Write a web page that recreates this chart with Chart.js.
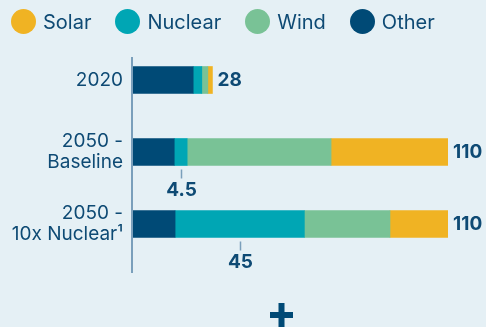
<!DOCTYPE html>
<html>
<head>
<meta charset="utf-8">
<script src="https://cdn.jsdelivr.net/npm/chart.js@4"></script>
<style>
  body { margin: 0; background: #e5f0f5; }
  #wrap { position: relative; width: 486px; height: 327px; background: #e5f0f5; overflow: hidden; }
  #legend { position: absolute; left: 11px; top: 9px; display: flex; align-items: center; font-family: Inter, sans-serif; font-size: 20px; color: #0e4a74; }
  #legend .item { display: flex; align-items: center; margin-right: 24px; }
  #legend .dot { width: 25px; height: 25px; border-radius: 50%; margin-right: 7px; }
</style>
</head>
<body>
<div id="wrap">
  <canvas id="chart"></canvas>
  <div id="legend"></div>
</div>
<script>
const categories = ['2020', ['2050 -', 'Baseline'], ['2050 -', '10x Nuclear¹']];
const other   = [21.3, 14.7, 15.0];
const nuclear = [3.0, 4.5, 45];
const wind    = [2.1, 50.1, 29.8];
const solar   = [1.6, 40.7, 20.2];
const totals  = [28, 110, 110];
const nuclearCallouts = [null, '4.5', '45'];
const legendOrder = ['Solar', 'Nuclear', 'Wind', 'Other'];

const textColor = '#0e4a74';
const lineColor = '#7a9fbb';

// stacked left to right: Other, Nuclear, Wind, Solar
const series = [
    { label: 'Other', data: other, color: '#004a76' },
    { label: 'Nuclear', data: nuclear, color: '#00a6b4' },
    { label: 'Wind', data: wind, color: '#79c296' },
    { label: 'Solar', data: solar, color: '#f0b323' },
];

var legend = document.getElementById('legend');
legendOrder.forEach(name => {
    var s = series.find(x => x.label === name);
    var item = document.createElement('div');
    item.className = 'item';
    item.innerHTML = '<span class="dot" style="background:' + s.color + '"></span>' + s.label;
    legend.appendChild(item);
});

const annotations = {
    id: 'annotations',
    afterDatasetsDraw(chart) {
        const ctx = chart.ctx;
        const area = chart.chartArea;
        ctx.save();

        // vertical axis line, sitting a little below the category band
        ctx.strokeStyle = lineColor;
        ctx.lineWidth = 2;
        ctx.beginPath();
        ctx.moveTo(area.left, area.top + 13);
        ctx.lineTo(area.left, area.bottom + 13);
        ctx.stroke();

        // totals at the end of each bar
        const last = chart.getDatasetMeta(series.length - 1);
        ctx.fillStyle = textColor;
        ctx.font = 'bold 19px Inter';
        ctx.textBaseline = 'middle';
        ctx.textAlign = 'left';
        last.data.forEach((bar, i) => {
            ctx.fillText(totals[i], bar.x + 5, bar.y);
        });

        // nuclear share callouts under the bars
        const nuc = chart.getDatasetMeta(1);
        nuc.data.forEach((bar, i) => {
            if (!nuclearCallouts[i]) return;
            const cx = Math.round((bar.x + bar.base) / 2) + 0.5;
            const bottom = bar.y + bar.height / 2;
            ctx.strokeStyle = lineColor;
            ctx.lineWidth = 1.5;
            ctx.beginPath();
            ctx.moveTo(cx, bottom + 4);
            ctx.lineTo(cx, bottom + 13);
            ctx.stroke();
            ctx.textAlign = 'center';
            ctx.fillText(nuclearCallouts[i], cx, bottom + 25);
        });

        // plus sign below the chart
        ctx.fillStyle = '#004a76';
        ctx.fillRect(270, 312, 23, 6);
        ctx.fillRect(278.5, 303, 6, 30);
        ctx.restore();
    }
};

new Chart(document.getElementById('chart'), {
    type: 'bar',
    data: {
        labels: categories,
        datasets: series.map(s => ({
            label: s.label,
            data: s.data,
            backgroundColor: s.color,
            barThickness: 27,
        })),
    },
    options: {
        indexAxis: 'y',
        responsive: true,
        maintainAspectRatio: false,
        animation: false,
        layout: { padding: { top: 44, bottom: 67, left: 0, right: 38 } },
        plugins: {
            legend: { display: false },
            tooltip: { enabled: false },
        },
        scales: {
            x: {
                stacked: true,
                display: false,
                min: 0,
                max: 110,
            },
            y: {
                stacked: true,
                border: { display: false },
                grid: { display: false, drawTicks: false },
                ticks: {
                    padding: 9,
                    color: textColor,
                    font: { family: 'Inter', size: 19, lineHeight: 1.13 },
                },
                afterFit(scale) { scale.width = 132; },
            },
        },
    },
    plugins: [annotations],
});
</script>
</body>
</html>
